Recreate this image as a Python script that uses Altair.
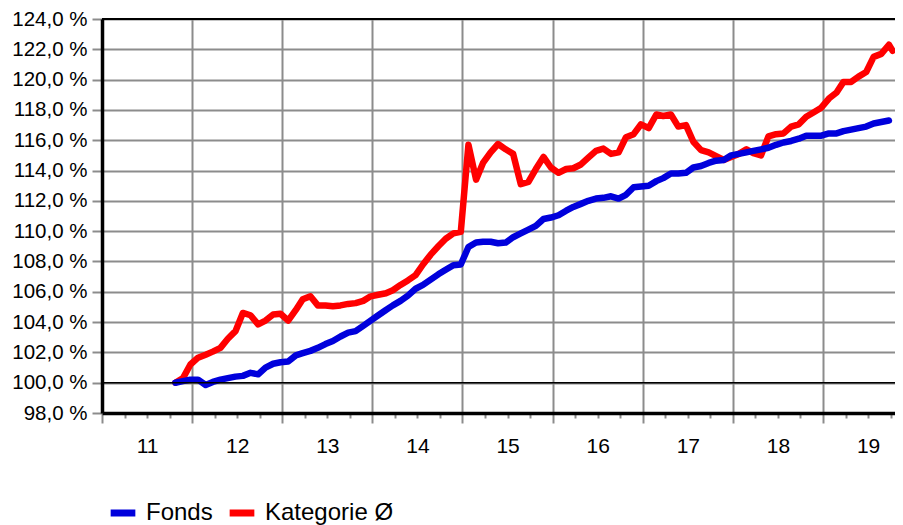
import altair as alt
import pandas as pd

# ---- data (index values in %) ----
series_names = ["Fonds", "Kategorie Ø"]
series_colors = ["#0000DC", "#FF0000"]

fonds = [
    100.0, 100.1, 100.2, 100.2, 99.85, 100.05, 100.2, 100.3, 100.4, 100.45,
    100.65, 100.55, 101.0, 101.25, 101.35, 101.4, 101.8, 101.95, 102.1, 102.3,
    102.55, 102.75, 103.05, 103.3, 103.4, 103.75, 104.1, 104.45, 104.8, 105.1,
    105.4, 105.75, 106.2, 106.45, 106.8, 107.15, 107.45, 107.75, 107.8, 108.95,
    109.25, 109.3, 109.3, 109.2, 109.25, 109.6, 109.85, 110.1, 110.35, 110.8,
    110.9, 111.05, 111.35, 111.6, 111.8, 112.0, 112.15, 112.2, 112.3, 112.15,
    112.4, 112.9, 112.95, 113.0, 113.3, 113.5, 113.8, 113.8, 113.85, 114.2,
    114.3, 114.5, 114.65, 114.7, 115.0, 115.1, 115.2, 115.3, 115.4, 115.5,
    115.7, 115.85, 115.95, 116.1, 116.3, 116.3, 116.3, 116.45, 116.45, 116.6,
    116.7, 116.8, 116.9, 117.1, 117.2, 117.3,
]

kategorie = [
    100.0, 100.3, 101.2, 101.65, 101.85, 102.05, 102.3, 102.9, 103.4, 104.6,
    104.45, 103.85, 104.1, 104.5, 104.55, 104.1, 104.8, 105.5, 105.7, 105.1,
    105.1, 105.05, 105.1, 105.2, 105.25, 105.4, 105.7, 105.8, 105.9, 106.1,
    106.45, 106.75, 107.1, 107.8, 108.45, 109.0, 109.5, 109.85, 109.95, 115.7,
    113.4, 114.5, 115.2, 115.75, 115.4, 115.1, 113.1, 113.25, 114.1, 114.9,
    114.2, 113.85, 114.1, 114.15, 114.4, 114.85, 115.3, 115.45, 115.1, 115.2,
    116.2, 116.4, 117.05, 116.8, 117.7, 117.6, 117.7, 116.9, 117.0, 115.9,
    115.35, 115.2, 114.95, 114.7, 114.9, 115.1, 115.4, 115.15, 115.0, 116.25,
    116.4, 116.45, 116.9, 117.05, 117.55, 117.85, 118.15, 118.75, 119.15, 119.85,
    119.85, 120.2, 120.5, 121.5, 121.7, 122.3, 121.9,
]

reference_lines = [100]
top_border = [124]
y_ticks = list(range(98, 125, 2))
x_quarters = [2011 + i * 0.25 for i in range(36)]

# monthly observation dates (last one is the latest, mid-month value)
dates = list(pd.date_range("2011-10-25", periods=len(kategorie) - 1, freq=pd.DateOffset(months=1)))
dates.append(pd.Timestamp("2019-10-10"))
def dec_year(d):
    days = 366 if d.is_leap_year else 365
    return d.year + (d.dayofyear - 1) / days
t_all = [dec_year(d) for d in dates]

df = pd.concat([
    pd.DataFrame({"t": t_all[:len(kategorie)], "v": kategorie, "series": series_names[1]}),
    pd.DataFrame({"t": t_all[:len(fonds)], "v": fonds, "series": series_names[0]}),
], ignore_index=True)

W, H = 793, 394
x_end = 2011 + W / 90.125
FONT = "Liberation Sans"
GRID = "#8c8c8c"

xscale = alt.Scale(domain=[2011, x_end], nice=False, zero=False)
yscale = alt.Scale(domain=[98, 124], nice=False, zero=False)

x_axis = alt.Axis(
    values=x_quarters,
    grid=True,
    gridColor=GRID,
    gridWidth=2,
    gridOpacity={"condition": {"test": "datum.value % 1 === 0", "value": 1}, "value": 0},
    tickSize={"condition": {"test": "datum.value % 1 === 0", "value": 10}, "value": 5},
    tickColor=GRID,
    tickWidth=2,
    labelExpr="datum.value % 1 === 0.5 ? '' + (floor(datum.value) % 100) : ''",
    labelFontSize=21,
    labelFont=FONT,
    labelColor="black",
    labelPadding=17,
    labelFlush=False,
    labelOverlap=False,
    domainColor="black",
    domainWidth=3.5,
    title=None,
)

y_axis = alt.Axis(
    values=y_ticks,
    grid=True,
    gridColor=GRID,
    gridWidth=2,
    tickSize=10,
    tickColor=GRID,
    tickWidth=2,
    labelExpr="replace(format(datum.value, '.1f'), '.', ',') + ' %'",
    labelFontSize=20.5,
    labelFont=FONT,
    labelColor="black",
    labelPadding=5,
    labelOverlap=False,
    labelFlush=False,
    labelSeparation=0,
    domainColor="black",
    domainWidth=3.5,
    title=None,
)

color = alt.Color(
    "series:N",
    scale=alt.Scale(domain=series_names, range=series_colors),
    legend=alt.Legend(
        orient="none",
        legendX=5,
        legendY=478,
        direction="horizontal",
        title=None,
        labelFontSize=24,
        labelFont=FONT,
        labelColor="black",
        symbolType="stroke",
        symbolSize=610,
        symbolStrokeWidth=7,
        labelOffset=7,
        columnPadding=2,
        padding=0,
    ),
)

base = alt.Chart(df)
red = base.transform_filter(alt.datum.series == series_names[1]).mark_line(
    strokeWidth=6.5, strokeJoin="round", strokeCap="round"
).encode(
    x=alt.X("t:Q", scale=xscale, axis=x_axis),
    y=alt.Y("v:Q", scale=yscale, axis=y_axis),
    color=color,
)
blue = base.transform_filter(alt.datum.series == series_names[0]).mark_line(
    strokeWidth=6.5, strokeJoin="round", strokeCap="round"
).encode(
    x=alt.X("t:Q", scale=xscale, axis=x_axis),
    y=alt.Y("v:Q", scale=yscale, axis=y_axis),
    color=color,
)

ref100 = alt.Chart(pd.DataFrame({"ref": reference_lines})).mark_rule(
    color="black", strokeWidth=1.5
).encode(y=alt.Y("ref:Q", scale=yscale, axis=y_axis))

top = alt.Chart(pd.DataFrame({"ref": top_border})).mark_rule(
    color="black", strokeWidth=2
).encode(y=alt.Y("ref:Q", scale=yscale, axis=y_axis))

chart = alt.layer(red, blue, ref100, top).properties(
    width=W,
    height=H,
    autosize=alt.AutoSizeParams(type="none"),
    padding={"left": 94, "top": 11, "right": 0, "bottom": 112},
).configure_view(stroke=None).configure_axis(
    labelOverlap=False
).configure_axisY(
    labelOverlap=False
).configure(background="white")

chart.save("out.html", embed_options={"renderer": "svg", "actions": False})
